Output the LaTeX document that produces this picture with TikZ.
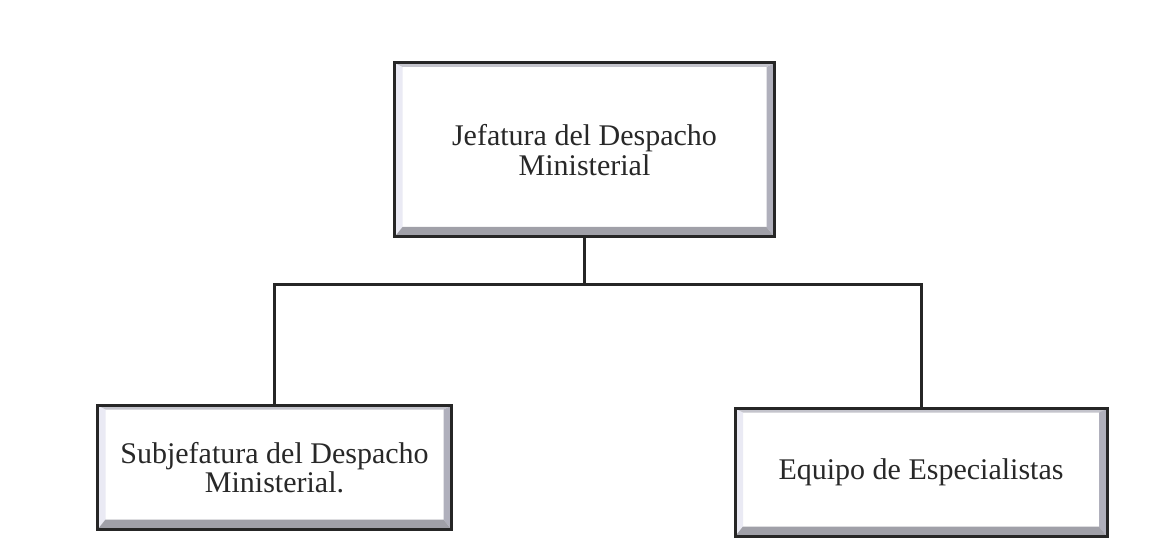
\documentclass[tikz,border=0pt]{standalone}
\usepackage{fontspec}
\setmainfont{Liberation Serif}
\usetikzlibrary{calc}
\definecolor{bevelhi}{RGB}{234,234,244}
\definecolor{beveltop}{RGB}{196,196,204}
\definecolor{bevelside}{RGB}{176,176,188}
\definecolor{bevellow}{RGB}{160,160,168}
\definecolor{textgray}{RGB}{40,40,40}
\tikzset{
  bevelbox/.style={draw=black!85, line width=1.5pt, fill=white, align=center,
    text=textgray, font=\fontsize{15}{13.5}\selectfont, inner sep=0pt,
    path picture={
      \coordinate (nw) at (path picture bounding box.north west);
      \coordinate (ne) at (path picture bounding box.north east);
      \coordinate (sw) at (path picture bounding box.south west);
      \coordinate (se) at (path picture bounding box.south east);
      \fill[bevelhi] (nw) -- ($(nw)+(4pt,-2pt)$) -- ($(sw)+(4pt,5pt)$) -- (sw) -- cycle;
      \fill[beveltop] (nw) -- (ne) -- ($(ne)+(-4pt,-2pt)$) -- ($(nw)+(4pt,-2pt)$) -- cycle;
      \fill[bevelside] (ne) -- ($(ne)+(-4pt,-2pt)$) -- ($(se)+(-4pt,5pt)$) -- (se) -- cycle;
      \fill[bevellow] (sw) -- ($(sw)+(4pt,5pt)$) -- ($(se)+(-4pt,5pt)$) -- (se) -- cycle;
    }},
  conector/.style={draw=black!85, line width=1.5pt}
}
\begin{document}
\begin{tikzpicture}[x=0.5pt, y=-0.5pt]
  \useasboundingbox (0, 0) rectangle (1154, 544);
  \node[bevelbox, minimum width=190pt, minimum height=87pt] (jefe) at (584.5, 150) {Jefatura del Despacho\\Ministerial};
  \node[bevelbox, minimum width=177pt, minimum height=62pt] (subjefe) at (274.5, 467.5) {Subjefatura del Despacho\\Ministerial.};
  \node[bevelbox, minimum width=186pt, minimum height=64pt] (equipo) at (921, 472.5) {Equipo de Especialistas};
  \coordinate (rama) at (584.5, 285);
  \draw[conector] (jefe.south) -- (rama);
  \draw[conector] (subjefe.north) |- (rama) -| (equipo.north);
\end{tikzpicture}
\end{document}
